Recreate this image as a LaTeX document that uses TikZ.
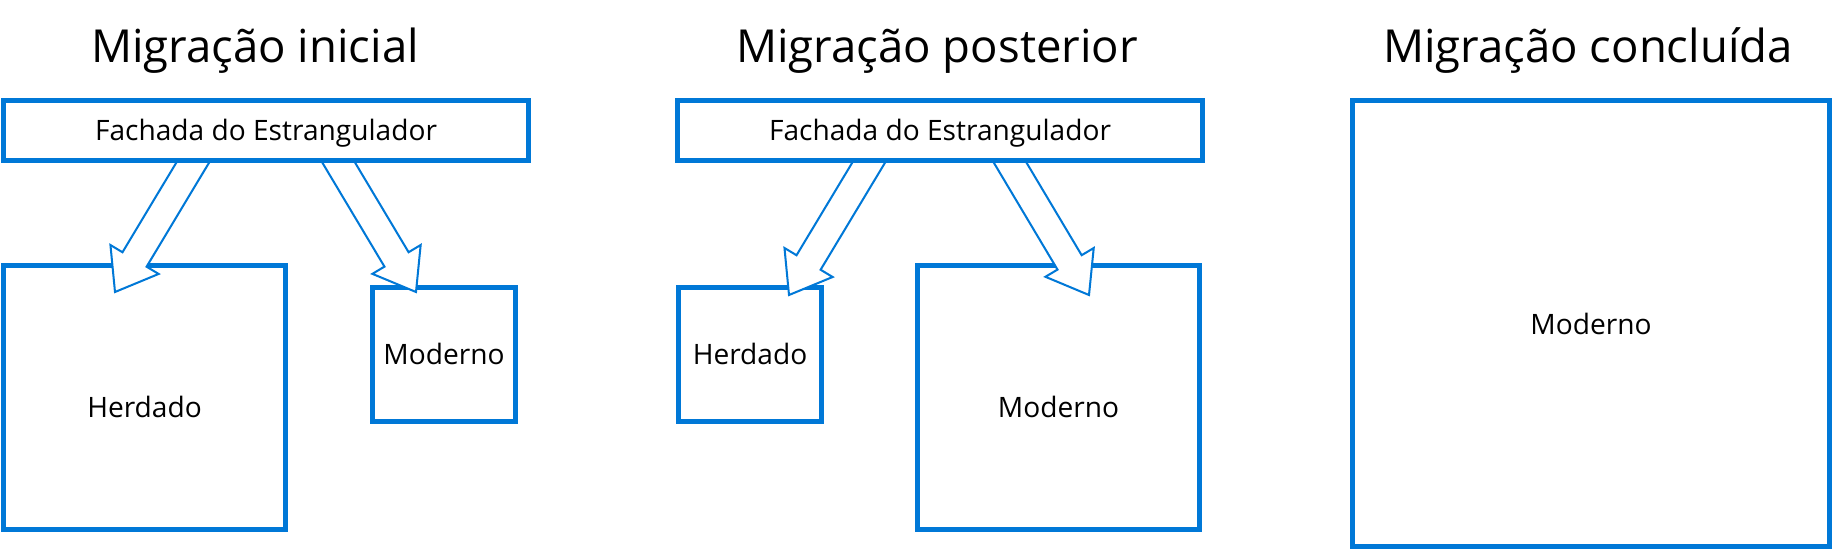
\documentclass[tikz,border=0pt]{standalone}
\usepackage{fontspec}
\setmainfont{Open Sans}
\usetikzlibrary{calc}
\definecolor{msblue}{HTML}{0078D7}
\pgfdeclarelayer{back}
\pgfsetlayers{back,main}

\newcommand{\blockarrow}[2]{%
  \coordinate (hb) at ($(#2)!21.6pt!(#1)$);
  \draw[fatarrow] ($(#1)!8pt!90:(#2)$) -- ($(hb)!8pt!90:(#2)$) -- ($(hb)!16pt!90:(#2)$) -- (#2)
    -- ($(hb)!16pt!-90:(#2)$) -- ($(hb)!8pt!-90:(#2)$) -- ($(#1)!8pt!-90:(#2)$) -- cycle;
}

\begin{document}
\begin{tikzpicture}[
  x=0.02cm, y=-0.02cm,
  heading/.style={font=\fontsize{25.9}{30}\selectfont, anchor=base},
  box/.style={draw=msblue, fill=white, line width=2.85pt, outer sep=0pt, inner sep=0pt, font=\fontsize{16}{19}\selectfont, text height=0.41cm, text depth=0pt},
  facade/.style={box, minimum width=10.5cm, minimum height=1.2cm},
  small/.style={box, minimum width=2.86cm, minimum height=2.7cm},
  large/.style={box, minimum width=5.63cm, minimum height=5.3cm, text height=0.81cm},
  fatarrow/.style={draw=msblue, fill=white, line width=1.15pt, line join=miter}
]
\useasboundingbox (0,0) rectangle (1833,552);

\node[heading] (t1) at (255,62) {Migração inicial};
\node[heading] (t2) at (937,62) {Migração posterior};
\node[heading] (t3) at (1588,62) {Migração concluída};

\node[facade] (fac1) at (266,130.5) {Fachada do Estrangulador};
\node[facade] (fac2) at (940,130.5) {Fachada do Estrangulador};

\begin{pgfonlayer}{back}
\node[large] (herd1) at (144.5,397.5) {Herdado};
\node[small] (mod1) at (444,354.5) {Moderno};
\node[small] (herd2) at (750,354.5) {Herdado};
\node[large] (mod2) at (1058.5,397.5) {Moderno};

\coordinate (s1) at ($(fac1.center)+(-54,0)$);
\coordinate (s2) at ($(fac1.center)+(53.5,0)$);
\coordinate (s3) at ($(fac2.center)+(-52,0)$);
\coordinate (s4) at ($(fac2.center)+(51,0)$);
\coordinate (e1) at ($(herd1.center)+(-29.5,-105.5)$);
\coordinate (e2) at ($(mod1.center)+(-28,-62.5)$);
\coordinate (e3) at ($(herd2.center)+(39,-59.5)$);
\coordinate (e4) at ($(mod2.center)+(30.5,-102.5)$);

\blockarrow{s1}{e1}
\blockarrow{s2}{e2}
\blockarrow{s3}{e3}
\blockarrow{s4}{e4}
\end{pgfonlayer}

\node[box, minimum width=9.56cm, minimum height=8.93cm] (mod3) at (1591,323.75) {Moderno};
\end{tikzpicture}
\end{document}
